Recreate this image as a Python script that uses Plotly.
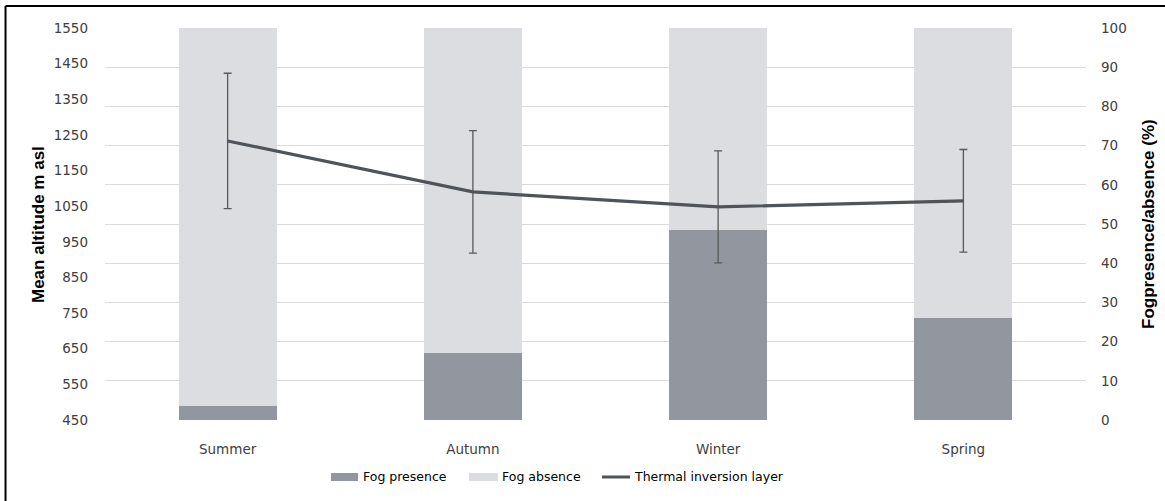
import plotly.graph_objects as go

# Seasonal fog occurrence and thermal inversion altitude
seasons = ["Summer", "Autumn", "Winter", "Spring"]
fog_presence = [3.5, 17.0, 48.5, 25.9]          # % of days
fog_absence = [96.5, 83.0, 51.5, 74.1]          # % of days
inversion_altitude = [1233, 1090, 1048, 1065]   # mean altitude, m asl
inversion_sd = [190, 172, 157, 144]             # standard deviation, m

left_ticks = list(range(450, 1551, 100))
right_ticks = list(range(0, 101, 10))

FONT = "'DejaVu Sans', sans-serif"
TITLE_FONT = "'Liberation Sans', Arial, sans-serif"
TICK_COLOR = "#404040"
PRESENCE_COLOR = "#92979f"
ABSENCE_COLOR = "#dcdde0"
LINE_COLOR = "#4f535a"

fig = go.Figure()

fig.add_trace(go.Bar(
    x=seasons, y=fog_presence, name="Fog presence",
    marker=dict(color=PRESENCE_COLOR, line=dict(width=0)),
    width=0.4, yaxis="y",
))
fig.add_trace(go.Bar(
    x=seasons, y=fog_absence, name="Fog absence",
    marker=dict(color=ABSENCE_COLOR, line=dict(width=0)),
    width=0.4, yaxis="y",
))
fig.add_trace(go.Scatter(
    x=seasons, y=inversion_altitude, name="Thermal inversion layer",
    mode="lines", line=dict(color=LINE_COLOR, width=3.2),
    error_y=dict(type="data", array=inversion_sd, visible=True,
                 color="#595959", thickness=1.3, width=4),
    yaxis="y2",
))

# Legend drawn as swatches + labels below the plot
legend_y = -0.1454
legend_items = [
    ("rect", PRESENCE_COLOR, 0.2304, 0.2579, "Fog presence", 0.2610),
    ("rect", ABSENCE_COLOR, 0.3710, 0.4006, "Fog absence", 0.4027),
    ("line", LINE_COLOR, 0.5066, 0.5352, "Thermal inversion layer", 0.5372),
]
legend_shapes = []
legend_annotations = []
for kind, color, x0, x1, label, tx in legend_items:
    if kind == "rect":
        legend_shapes.append(dict(
            type="rect", xref="paper", yref="paper",
            x0=x0, x1=x1, y0=legend_y - 0.0102, y1=legend_y + 0.0102,
            fillcolor=color, line=dict(width=0)))
    else:
        legend_shapes.append(dict(
            type="line", xref="paper", yref="paper",
            x0=x0, x1=x1, y0=legend_y, y1=legend_y,
            line=dict(color=color, width=3)))
    legend_annotations.append(dict(
        text=label, x=tx, y=legend_y, xref="paper", yref="paper",
        xanchor="left", yanchor="middle", showarrow=False,
        font=dict(family=FONT, size=12.5, color="#000000")))

fig.update_layout(
    width=1165, height=501,
    margin=dict(l=105, r=79, t=28, b=81),
    paper_bgcolor="white", plot_bgcolor="white",
    barmode="stack", showlegend=False,
    font=dict(family=FONT, size=13.5, color=TICK_COLOR),
    xaxis=dict(
        showgrid=False, zeroline=False, showline=False,
        ticks="", ticklabelstandoff=19,
        tickfont=dict(family=FONT, size=13.5, color=TICK_COLOR),
    ),
    yaxis=dict(
        side="right", range=[0, 100], tickvals=right_ticks,
        showgrid=True, gridcolor="#dadada", gridwidth=1,
        zeroline=False, showline=False, ticks="",
        ticklabelstandoff=14,
        tickfont=dict(family=FONT, size=13.5, color=TICK_COLOR),
    ),
    yaxis2=dict(
        side="left", overlaying="y", range=[450, 1550], tickvals=left_ticks,
        showgrid=False, zeroline=False, showline=False, ticks="",
        ticklabelstandoff=16,
        tickfont=dict(family=FONT, size=13.5, color=TICK_COLOR),
    ),
    annotations=[
        dict(text="<b>Mean altitude m asl</b>", textangle=-90,
             x=-0.0683, y=0.5, xref="paper", yref="paper",
             xanchor="center", yanchor="middle", showarrow=False,
             font=dict(family=TITLE_FONT, size=17, color="#000000")),
        dict(text="<b>Fogpresence/absence (%)</b>", textangle=-90,
             x=1.0632, y=0.5, xref="paper", yref="paper",
             xanchor="center", yanchor="middle", showarrow=False,
             font=dict(family=TITLE_FONT, size=17, color="#000000")),
    ] + legend_annotations,
    shapes=[
        dict(type="line", xref="paper", yref="paper",
             x0=-0.1014, x1=-0.1014, y0=1.0561, y1=-0.25,
             line=dict(color="#000000", width=2)),
        dict(type="line", xref="paper", yref="paper",
             x0=-0.1014, x1=1.1, y0=1.0561, y1=1.0561,
             line=dict(color="#000000", width=2)),
    ] + legend_shapes,
)

fig.write_html("out.html")
